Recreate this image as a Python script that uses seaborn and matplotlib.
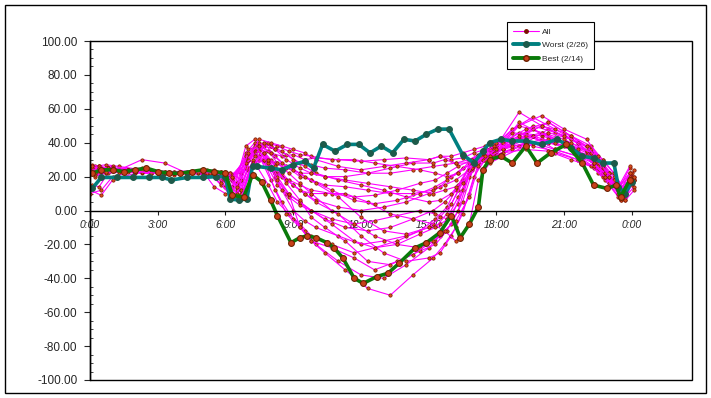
## DAILY PROFILE CHART - ALL DAYS vs WORST / BEST
import pandas as pd
import numpy as np
import matplotlib
matplotlib.use('Agg')
import matplotlib.pyplot as plt
from matplotlib.lines import Line2D
from matplotlib.patches import Rectangle
from matplotlib.ticker import MultipleLocator, FormatStrFormatter
import seaborn as sns

sns.set_style('white')
plt.rcParams['font.family'] = ['Liberation Sans', 'DejaVu Sans']

## DATA
#### sampling hours (days were logged on slightly different clocks)
hours_a = [0, 0.5, 1, 2, 3, 4, 5, 5.5, 6, 6.5, 7, 7.5, 8, 8.5, 9, 9.5, 10, 11, 12, 13,
           14, 15, 15.5, 16, 16.5, 17, 17.5, 18, 19, 20, 21, 22, 22.5, 23, 23.5, 24]
hours_b = [0.2, 0.7, 1.3, 2.3, 3.3, 4.3, 5.2, 5.8, 6.2, 6.7, 7.2, 7.7, 8.2, 8.7, 9.3, 9.8, 10.4, 11.3, 12.3, 13.3,
           14.3, 15.2, 15.7, 16.2, 16.8, 17.2, 17.7, 18.3, 19.3, 20.3, 21.3, 22.2, 22.7, 23.2, 23.7, 24.1]
hours_c = [0.1, 0.4, 0.8, 1.7, 2.7, 3.7, 4.8, 5.3, 5.8, 6.3, 6.9, 7.3, 7.9, 8.3, 8.8, 9.3, 9.8, 10.7, 11.7, 12.6,
           13.6, 14.6, 15.3, 15.8, 16.3, 16.9, 17.4, 17.9, 18.7, 19.6, 20.6, 21.6, 22.3, 22.8, 23.4, 23.9]
hour_grids = {'a': hours_a, 'b': hours_b, 'c': hours_c}

all_days = {
    'd01': [24, 25, 25, 23, 22, 23, 24, 23, 22, 12, 30, 36, 34, 32, 33, 30, 31, 30, 29, 30, 31, 30, 32, 30, 31, 34, 36, 38, 46, 44, 40, 34, 24, 20, 10, 20],
    'd02': [26, 27, 26, 24, 23, 22, 23, 22, 20, 10, 26, 38, 36, 33, 28, 27, 25, 24, 22, 22, 24, 26, 27, 28, 30, 33, 35, 36, 40, 48, 42, 36, 30, 22, 12, 18],
    'd03': [22, 23, 24, 24, 22, 21, 22, 21, 18, 14, 34, 40, 30, 22, 18, 15, 12, 10, 8, 9, 12, 16, 18, 22, 26, 30, 34, 37, 42, 38, 35, 30, 26, 18, 8, 22],
    'd04': [10, 12, 20, 23, 22, 22, 22, 24, 14, 8, 24, 30, 25, 20, 15, 10, 6, 2, 0, 2, 5, 10, 14, 20, 25, 28, 32, 35, 52, 45, 40, 32, 25, 20, 6, 15],
    'd05': [24, 24, 23, 22, 22, 22, 21, 22, 20, 12, 28, 34, 20, 10, 5, 0, -5, -10, -12, -10, -5, 0, 5, 12, 22, 30, 33, 36, 44, 40, 36, 30, 24, 18, 10, 24],
    'd06': [25, 26, 25, 24, 23, 23, 23, 22, 21, 20, 30, 28, 15, 5, -2, -8, -15, -20, -25, -22, -18, -12, -5, 2, 15, 28, 32, 34, 40, 50, 46, 40, 30, 22, 12, 16],
    'd07': [23, 24, 24, 23, 22, 22, 23, 22, 20, 10, 25, 32, 18, 5, -5, -12, -20, -30, -38, -40, -32, -22, -15, -8, 5, 26, 30, 33, 38, 42, 38, 33, 22, 16, 6, 20],
    'd08': [20, 22, 24, 25, 23, 23, 24, 23, 22, 18, 35, 30, 12, -2, -10, -18, -25, -35, -46, -50, -38, -28, -20, -10, 10, 28, 33, 36, 45, 52, 44, 36, 28, 20, 8, 14],
    'd09': [15, 14, 22, 23, 22, 22, 23, 22, 15, 9, 38, 42, 35, 28, 22, 16, 10, 0, -8, -15, -20, -22, -18, -5, 8, 24, 30, 32, 36, 40, 34, 30, 25, 20, 12, 25],
    'd10': [24, 25, 26, 24, 22, 23, 23, 14, 10, 9, 32, 40, 38, 35, 30, 26, 22, 18, 15, 12, 8, 5, 6, 10, 18, 30, 35, 38, 58, 50, 46, 38, 28, 22, 10, 20],
    'd11': [22, 23, 24, 23, 22, 22, 22, 23, 22, 22, 26, 30, 28, 25, 22, 22, 20, 18, 16, 14, 12, 10, 12, 14, 20, 28, 32, 34, 36, 35, 30, 26, 20, 16, 8, 18],
    'd12': [27, 26, 25, 24, 23, 22, 23, 22, 23, 21, 30, 34, 25, 15, 8, 3, 0, -5, -8, -6, -3, 0, -2, -5, 4, 25, 34, 38, 48, 55, 48, 40, 32, 24, 14, 26],
    'd13': [12, 9, 18, 22, 22, 22, 23, 22, 22, 16, 36, 38, 30, 22, 15, 10, 5, -2, -15, -25, -30, -28, -25, -15, -2, 20, 30, 35, 42, 46, 40, 35, 28, 22, 8, 22],
    'd14': [25, 25, 24, 30, 28, 22, 22, 21, 10, 8, 30, 40, 36, 30, 25, 22, 20, 20, 22, 25, 28, 28, 30, 28, 28, 32, 36, 40, 44, 40, 38, 30, 22, 18, 10, 18],
    'd15': [24, 25, 25, 24, 22, 23, 23, 22, 21, 20, 25, 35, 40, 38, 35, 33, 32, 30, 30, 28, 26, 24, 22, 20, 22, 28, 32, 36, 40, 44, 36, 32, 26, 22, 14, 20],
    'd16': [23, 24, 25, 24, 23, 22, 22, 22, 22, 15, 30, 35, 25, 12, 0, -6, -10, -15, -20, -18, -15, -10, -8, -4, 12, 27, 32, 35, 50, 46, 42, 35, 26, 20, 9, 16],
    'd17': [21, 22, 23, 23, 22, 22, 22, 21, 12, 7, 28, 30, 22, 18, 12, 10, 10, 10, 5, -2, -5, -8, -12, -18, -8, 18, 28, 32, 38, 42, 40, 34, 25, 18, 6, 12],
    'd18': [24, 25, 25, 24, 22, 22, 23, 22, 21, 18, 28, 36, 30, 20, 10, -10, -18, -22, -28, -35, -30, -24, -20, -12, 0, 25, 30, 34, 42, 48, 42, 36, 28, 20, 10, 22],
    'd19': [23, 24, 24, 23, 22, 22, 22, 21, 20, 12, 36, 40, 32, 26, 20, 18, 15, 14, 12, 10, 10, 12, 15, 18, 24, 32, 36, 40, 48, 52, 44, 38, 30, 22, 10, 20],
    'd20': [25, 26, 25, 24, 23, 22, 22, 22, 21, 19, 32, 38, 28, 18, 10, 5, 0, -8, -18, -22, -20, -14, -10, -2, 12, 30, 34, 38, 46, 44, 40, 34, 28, 20, 12, 18],
    'd21': [24, 24, 25, 23, 22, 22, 23, 22, 18, 10, 30, 42, 40, 38, 36, 34, 30, 26, 24, 26, 28, 30, 32, 32, 34, 36, 38, 40, 50, 56, 48, 42, 32, 22, 10, 16],
    'd22': [22, 23, 24, 24, 23, 22, 22, 16, 9, 8, 26, 34, 26, 16, 6, -4, -10, -18, -30, -32, -26, -18, -12, -6, 8, 26, 32, 36, 42, 46, 42, 34, 26, 18, 6, 20],
    'd23': [26, 25, 25, 24, 22, 22, 23, 22, 22, 20, 28, 32, 30, 28, 26, 22, 18, 12, 6, 4, 6, 10, 14, 18, 22, 30, 34, 36, 38, 40, 36, 32, 28, 22, 14, 22],
    'd24': [23, 24, 24, 23, 22, 22, 23, 22, 22, 14, 34, 38, 34, 28, 24, 20, 16, 8, -4, -12, -14, -10, -4, 4, 16, 28, 32, 36, 44, 50, 44, 38, 30, 20, 8, 18],
}
day_grid = {'d01': 'a', 'd02': 'b', 'd03': 'c', 'd04': 'a', 'd05': 'b', 'd06': 'c',
            'd07': 'a', 'd08': 'b', 'd09': 'c', 'd10': 'a', 'd11': 'b', 'd12': 'c',
            'd13': 'a', 'd14': 'b', 'd15': 'c', 'd16': 'a', 'd17': 'b', 'd18': 'c',
            'd19': 'b', 'd20': 'c', 'd21': 'a', 'd22': 'b', 'd23': 'c', 'd24': 'a'}

#### Worst day (2/26)
worst_hours = [0.1, 0.5, 1.2, 1.9, 2.6, 3.2, 3.6, 4.3, 5.0, 5.6, 6.0, 6.2, 6.6, 6.95, 7.2, 7.4, 8.0, 8.5,
               9.0, 9.5, 9.9, 10.3, 10.85, 11.4, 11.9, 12.4, 12.9, 13.4, 13.9, 14.4, 14.9, 15.4, 15.9,
               16.5, 17.0, 17.4, 17.7, 18.2, 18.7, 19.3, 20.0, 20.7, 21.3, 21.8, 22.3, 22.7, 23.2,
               23.4, 23.7, 24.0]
worst_vals = [13, 19.5, 19.5, 19.5, 19.5, 19.5, 18, 19.5, 19.5, 20, 20, 7, 6, 7, 26.5, 26, 25, 24,
              27, 29, 25, 39, 35, 39, 39, 34, 38, 34, 42, 41, 45, 48, 48,
              33, 28, 35, 40, 42, 41, 41, 39, 42, 37, 32, 31, 28, 28,
              14, 10, 17]

#### Best day (2/14)
best_hours = [0.1, 0.5, 1.0, 1.5, 2.0, 2.5, 3.0, 3.5, 4.0, 4.5, 5.0, 5.5, 6.0, 6.3, 6.8, 7.2, 7.6,
              8.0, 8.3, 8.9, 9.3, 9.6, 10.0, 10.5, 10.8, 11.2, 11.7, 12.1, 12.7, 13.2, 13.7, 14.4,
              14.9, 15.5, 16.0, 16.4, 16.8, 17.2, 17.4, 17.7, 18.2, 18.7, 19.3, 19.8, 20.4, 21.1,
              21.8, 22.3, 22.9, 23.3, 23.5, 23.9]
best_vals = [22, 24, 24, 23, 24, 25, 23, 22, 22, 23, 24, 23, 22, 9, 8, 21, 17,
             6, -3, -19, -16, -15, -16, -19, -22, -28, -40, -43, -39, -37, -31, -22,
             -19, -13, -3, -16, -8, 2, 24, 30, 32, 28, 38, 28, 34, 39,
             28, 15, 13, 15, 8, 18]

tick_hours = [0, 3, 6, 9, 12, 15, 18, 21, 24]
tick_names = ['0:00', '3:00', '6:00', '9:00', '12:00', '15:00', '18:00', '21:00', '0:00']

## LONG TABLE FOR SEABORN
rows = []
for day, vals in all_days.items():
    for h, v in zip(hour_grids[day_grid[day]], vals):
        rows.append((day, h, v))
df_all = pd.DataFrame(rows, columns=['day', 'hour', 'value'])

## PLOT
fig = plt.figure(figsize=(7.11, 3.98), dpi=100)
ax = fig.add_axes([90 / 711, 18 / 398, 602 / 711, 339 / 398])

sns.lineplot(data=df_all, x='hour', y='value', units='day', estimator=None, ax=ax,
             color='#ff00ff', lw=0.8, marker='o', markersize=2.4,
             markerfacecolor='#d8501a', markeredgecolor='#7a1000', markeredgewidth=0.5)
sns.lineplot(x=worst_hours, y=worst_vals, ax=ax, color='#007f7f', lw=2.6,
             marker='o', markersize=4.2, markerfacecolor='#1d5a4a', markeredgecolor='#1d5a4a')
sns.lineplot(x=best_hours, y=best_vals, ax=ax, color='#0a7a0a', lw=2.6,
             marker='o', markersize=4.2, markerfacecolor='#c8401a', markeredgecolor='#6a2000')

#### Spines (set before ticks: moving a spine resets the tick labels)
for s in ['top', 'right']:
    ax.spines[s].set_visible(False)
ax.spines['left'].set_color('black')
ax.spines['left'].set_linewidth(1)
ax.spines['bottom'].set_position(('data', 0))
ax.spines['bottom'].set_color('black')
ax.spines['bottom'].set_linewidth(1)
ax.add_patch(Rectangle((0, 0), 1, 1, transform=ax.transAxes, fill=False,
                       edgecolor='black', lw=1, clip_on=False, zorder=5))

#### Axes format
ax.set_xlim(0, 26.66)
ax.set_ylim(-100, 100)
ax.set_xlabel('')
ax.set_ylabel('')
ax.set_xticks(tick_hours)
ax.set_xticklabels(tick_names)
ax.yaxis.set_major_locator(MultipleLocator(20))
ax.yaxis.set_minor_locator(MultipleLocator(5))
ax.yaxis.set_major_formatter(FormatStrFormatter('%.2f'))
ax.tick_params(axis='y', which='major', direction='out', length=4, width=0.8, pad=5, labelsize=8.5, left=True)
ax.tick_params(axis='y', which='minor', direction='in', length=2.5, width=0.6, left=True)
ax.tick_params(axis='x', direction='out', length=3, width=0.8, pad=4, labelsize=7.5, bottom=True)
for lbl in ax.get_xticklabels():
    lbl.set_fontstyle('italic')

#### Legend
handles = [
    Line2D([], [], color='#ff00ff', lw=0.8, marker='o', markersize=2.5,
           markerfacecolor='#7a1000', markeredgecolor='#7a1000'),
    Line2D([], [], color='#007f7f', lw=2.8, marker='o', markersize=4,
           markerfacecolor='#1d5a4a', markeredgecolor='#1d5a4a'),
    Line2D([], [], color='#0a7a0a', lw=2.8, marker='o', markersize=4,
           markerfacecolor='#c8401a', markeredgecolor='#6a2000'),
]
leg = fig.legend(handles, ['All', 'Worst (2/26)', 'Best (2/14)'], loc='upper left',
                 bbox_to_anchor=(507 / 711, 1 - 22 / 398), fontsize=6, frameon=True,
                 fancybox=False, handlelength=3.2, handletextpad=0.3, borderpad=0.7,
                 labelspacing=0.7, borderaxespad=0)
leg.get_frame().set_edgecolor('black')
leg.get_frame().set_linewidth(0.8)
leg.get_frame().set_alpha(1)

#### Chart border
fig.patches.append(Rectangle((5 / 711, 5 / 398), 701 / 711, 388 / 398, transform=fig.transFigure,
                             fill=False, edgecolor='black', lw=1))

fig.savefig('out.png', dpi=100)
